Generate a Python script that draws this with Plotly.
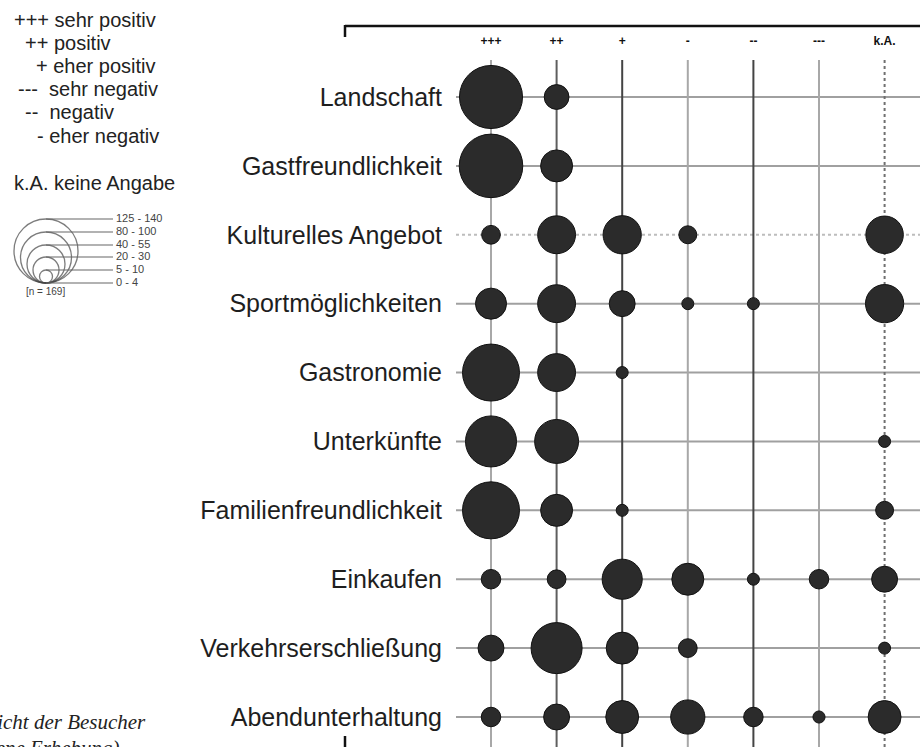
import plotly.graph_objects as go
import numpy as np

# --- Daten ---
kategorien = ['Landschaft', 'Gastfreundlichkeit', 'Kulturelles Angebot', 'Sportmöglichkeiten',
              'Gastronomie', 'Unterkünfte', 'Familienfreundlichkeit', 'Einkaufen',
              'Verkehrserschließung', 'Abendunterhaltung']
bewertungen = ['+++', '++', '+', '-', '--', '---', 'k.A.']

# Anzahl Nennungen je Kategorie (Spalten wie bewertungen)
landschaft = [136, 21, 0, 0, 0, 0, 0]
gastfreundlichkeit = [138, 35, 0, 0, 0, 0, 0]
kulturelles_angebot = [12, 49, 50, 11, 0, 0, 48]
sportmoeglichkeiten = [33, 49, 23, 4, 4, 0, 50]
gastronomie = [111, 49, 4, 0, 0, 0, 0]
unterkuenfte = [89, 66, 0, 0, 0, 0, 4]
familienfreundlichkeit = [111, 35, 4, 0, 0, 0, 11]
einkaufen = [13, 12, 55, 35, 4, 13, 23]
verkehrserschliessung = [23, 89, 35, 12, 0, 0, 4]
abendunterhaltung = [13, 23, 37, 40, 13, 5, 37]

werte = [landschaft, gastfreundlichkeit, kulturelles_angebot, sportmoeglichkeiten, gastronomie,
         unterkuenfte, familienfreundlichkeit, einkaufen, verkehrserschliessung, abendunterhaltung]

legende_text = ['+++ sehr positiv', '++ positiv', '+ eher positiv',
                '---  sehr negativ', '--  negativ', '- eher negativ']
groessen_klassen = ['125 - 140', '80 - 100', '40 - 55', '20 - 30', '5 - 10', '0 - 4']
n_gesamt = 169

# --- Layout-Hilfen (Pixel -> Papier) ---
W, H = 920, 747
PLOT_L, PLOT_T = 456, 60


def px(x):
    return x / W


def py(y):
    return 1 - y / H


D_MAX, N_MAX, D_MIN = 64, 140, 12


def durchmesser(n):
    return max(D_MIN, D_MAX * np.sqrt(n / N_MAX)) if n > 0 else 0


xs, ys, gr = [], [], []
for i, zeile in enumerate(werte):
    for j, n in enumerate(zeile):
        if n > 0:
            xs.append(j)
            ys.append(i)
            gr.append(durchmesser(n))

fig = go.Figure()
fig.add_trace(go.Scatter(
    x=xs, y=ys, mode='markers',
    marker=dict(size=gr, color='#2b2b2b', line=dict(color='#111111', width=1), opacity=1),
    hoverinfo='skip', showlegend=False
))

# Gitterlinien
shapes = []
for i in range(len(kategorien)):
    shapes.append(dict(type='line', xref='x domain', yref='y', x0=0, x1=1, y0=i, y1=i,
                       line=dict(color='#bdbdbd' if i == 2 else '#a0a0a0', width=2,
                                 dash='dot' if i == 2 else 'solid'),
                       layer='below'))
spalten_farbe = ['#a8a8a8', '#5e5e5e', '#444444', '#a8a8a8', '#444444', '#a8a8a8', '#707070']
for j in range(len(bewertungen)):
    shapes.append(dict(type='line', xref='x', yref='y domain', x0=j, x1=j, y0=0, y1=1,
                       line=dict(color=spalten_farbe[j], width=2,
                                 dash='dot' if j == 6 else 'solid'),
                       layer='below'))

# Klammer oben / Strich unten
shapes.append(dict(type='line', xref='paper', yref='paper', x0=px(345), x1=1, y0=py(26), y1=py(26),
                   line=dict(color='#111', width=2.5)))
shapes.append(dict(type='line', xref='paper', yref='paper', x0=px(345), x1=px(345), y0=py(25), y1=py(37),
                   line=dict(color='#111', width=2.5)))
shapes.append(dict(type='line', xref='paper', yref='paper', x0=px(345), x1=px(345), y0=py(736), y1=0,
                   line=dict(color='#111', width=2.5)))

annotations = []
# Legende oben links
leg_y = [20, 43, 66, 89, 112, 136]
leg_x = [12, 23, 34, 16, 23, 35]
for t, lx, ly in zip(legende_text, leg_x, leg_y):
    annotations.append(dict(text=t, x=px(lx), y=py(ly), xref='paper', yref='paper',
                            xanchor='left', yanchor='middle', showarrow=False,
                            font=dict(family='Liberation Sans, Arial', size=20, color='#222')))
annotations.append(dict(text='k.A. keine Angabe', x=px(12), y=py(183), xref='paper', yref='paper',
                        xanchor='left', yanchor='middle', showarrow=False,
                        font=dict(family='Liberation Sans, Arial', size=20, color='#222')))

# Quelle (links unten, angeschnitten)
for t, rx, ry in [('Bewertung aus Sicht der Besucher', 148, 722), ('(eigene Erhebung)', 121, 748)]:
    annotations.append(dict(text='<i>' + t + '</i>', x=px(rx), y=py(ry), xref='paper', yref='paper',
                            xanchor='right', yanchor='middle', showarrow=False,
                            font=dict(family='Liberation Serif, Times New Roman', size=21, color='#222')))

# Größenlegende (eigene Achsen, 1 Einheit = 1 px)
leg_d = [64, 51, 38, 26, 13, 0]
basis = 17
fig.add_trace(go.Scatter(
    x=[46] * 5, y=[basis + d / 2 for d in leg_d[:5]], xaxis='x2', yaxis='y2', mode='markers',
    marker=dict(symbol='circle-open', size=leg_d[:5], color='#444', line=dict(width=1.3, color='#444')),
    hoverinfo='skip', showlegend=False
))
for d, lab in zip(leg_d, groessen_klassen):
    fig.add_trace(go.Scatter(
        x=[46, 113], y=[basis + d, basis + d], xaxis='x2', yaxis='y2', mode='lines',
        line=dict(color='#666', width=1.2), hoverinfo='skip', showlegend=False
    ))
fig.add_trace(go.Scatter(
    x=[116] * 6, y=[basis + d for d in leg_d], xaxis='x2', yaxis='y2', mode='text',
    text=groessen_klassen, textposition='middle right',
    textfont=dict(family='Liberation Sans, Arial', size=11, color='#444'),
    hoverinfo='skip', showlegend=False
))
fig.add_trace(go.Scatter(
    x=[26], y=[8], xaxis='x2', yaxis='y2', mode='text',
    text=[f'[n = {n_gesamt}]'], textposition='middle right',
    textfont=dict(family='Liberation Sans, Arial', size=10, color='#444'),
    hoverinfo='skip', showlegend=False
))

# Achsenbereiche
spalte0, zeile0 = 491, 97
dx = 65.6
dy = (717 - 97) / 9

fig.update_layout(
    width=W, height=H,
    margin=dict(l=0, r=0, t=0, b=0),
    paper_bgcolor='white', plot_bgcolor='white',
    xaxis=dict(domain=[px(PLOT_L), 1], range=[-(spalte0 - PLOT_L) / dx, (W - spalte0) / dx],
               side='top', tickvals=list(range(len(bewertungen))), ticktext=bewertungen,
               tickfont=dict(family='Liberation Sans, Arial', size=12, color='#111', weight='bold'),
               ticks='', ticklabelstandoff=12, showgrid=False, zeroline=False, showline=False,
               automargin=False, fixedrange=True),
    yaxis=dict(domain=[0, py(PLOT_T)], range=[9 + (H - 717) / dy, -(zeile0 - PLOT_T) / dy],
               tickvals=list(range(len(kategorien))), ticktext=kategorien,
               tickfont=dict(family='Liberation Sans, Arial', size=25, color='#1e1e1e'),
               ticks='', ticklabelstandoff=13, showgrid=False, zeroline=False, showline=False,
               automargin=False, fixedrange=True),
    xaxis2=dict(domain=[0, px(200)], range=[0, 200], anchor='y2', visible=False),
    yaxis2=dict(domain=[py(300), py(200)], range=[0, 100], anchor='x2', visible=False),
    shapes=shapes, annotations=annotations, showlegend=False
)

fig.write_html("out.html", config={'displayModeBar': False},
               post_script="document.body.style.margin='0';document.body.style.overflow='hidden';")
